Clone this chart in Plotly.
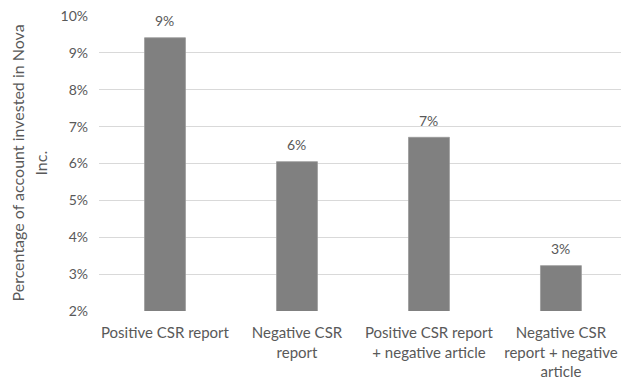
import plotly.graph_objects as go

# Share of account invested in Nova Inc. by experimental condition
categories = [
    "Positive CSR report",
    "Negative CSR<br>report",
    "Positive CSR report<br>+ negative article",
    "Negative CSR<br>report + negative<br>article",
]
invested_share = [0.0941, 0.0605, 0.0671, 0.0323]

y_ticks = [0.02, 0.03, 0.04, 0.05, 0.06, 0.07, 0.08, 0.09, 0.10]
y_title_lines = ["Percentage of account invested in Nova", "Inc."]

text_color = "#595959"
font_family = "Lato"

fig = go.Figure(
    go.Bar(
        x=list(range(len(categories))),
        y=invested_share,
        width=0.31,
        marker=dict(color="#808080", line=dict(color="#9a9a9a", width=0.8)),
        hoverinfo="skip",
    )
)

# value labels above each bar
for i, v in enumerate(invested_share):
    fig.add_annotation(
        x=i, y=v, xref="x", yref="y",
        text=f"{v:.0%}", showarrow=False,
        yshift=17, font=dict(family=font_family, size=14, color=text_color),
    )

# wrapped, rotated y-axis title
for line, shift in zip(y_title_lines, [-82, -59]):
    fig.add_annotation(
        x=0, y=0.5, xref="paper", yref="paper",
        text=line, textangle=-90, showarrow=False,
        xanchor="center", yanchor="middle", xshift=shift,
        font=dict(family=font_family, size=16, color=text_color),
    )

fig.update_layout(
    width=621, height=385,
    margin=dict(l=99, r=0, t=16, b=74),
    paper_bgcolor="white", plot_bgcolor="white",
    showlegend=False,
    font=dict(family=font_family, size=14, color=text_color),
    xaxis=dict(
        range=[-0.5, 3.455],
        tickmode="array",
        tickvals=list(range(len(categories))),
        ticktext=categories,
        showgrid=False, zeroline=False, showline=False, ticks="",
        ticklabelstandoff=11,
        tickfont=dict(family=font_family, size=15, color=text_color),
    ),
    yaxis=dict(
        range=[0.02, 0.10],
        tickmode="array",
        tickvals=y_ticks,
        ticktext=[f"{t:.0%}" for t in y_ticks],
        showgrid=True, gridcolor="#d9d9d9", gridwidth=1,
        zeroline=False, showline=False, ticks="",
        ticklabelstandoff=10,
        tickfont=dict(family=font_family, size=14, color=text_color),
    ),
)

fig.write_html("out.html")
